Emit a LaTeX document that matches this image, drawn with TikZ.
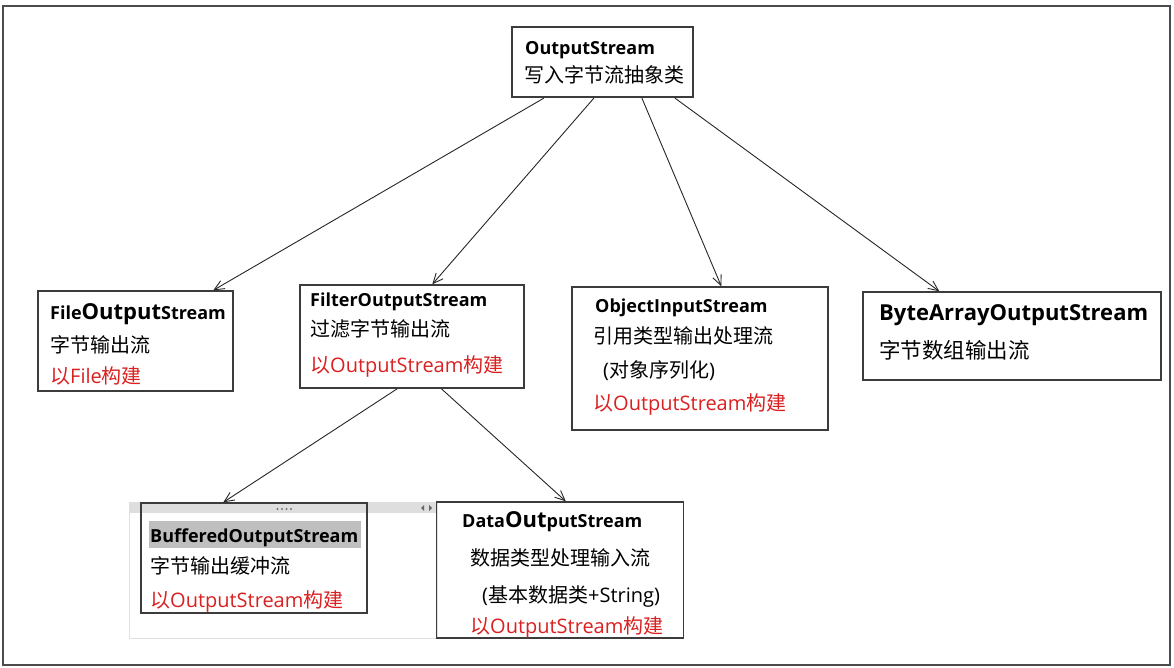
\documentclass[tikz,border=0pt]{standalone}
\usepackage{fontspec}
\setmainfont{Open Sans}
\newfontfamily\cjk{Noto Sans CJK SC}
\usetikzlibrary{arrows.meta,calc}
\definecolor{redtxt}{RGB}{218,32,32}
\definecolor{frame}{RGB}{60,60,60}
\newcommand{\zh}[1]{{\cjk #1}}
\newcommand{\bigpart}[1]{{\fontsize{22}{24}\selectfont #1}}
\begin{document}
\begin{tikzpicture}[x=1pt,y=-1pt,
  box/.style={draw=frame, line width=1.4pt, rectangle, inner sep=0pt},
  ttl/.style={anchor=base west, inner sep=0pt, font=\fontsize{18}{20}\selectfont\bfseries},
  txt/.style={anchor=base west, inner sep=0pt, font=\fontsize{20}{22}\selectfont},
  red/.style={txt, text=redtxt},
  arr/.style={draw=black!85, line width=0.9pt, -{Straight Barb[length=10pt,width=9pt]}}]
\useasboundingbox (0,0) rectangle (1174,668);
% outer frame
\node[draw=black!70, line width=1.5pt, minimum width=1167pt, minimum height=659pt, inner sep=0pt] (outer) at (586.5,335.5) {};
% decorative panel behind buffered
\node[draw=black!12, line width=0.8pt, minimum width=308pt, minimum height=136pt, inner sep=0pt] (panel) at (283,570) {};
\node[fill=black!13, minimum width=308pt, minimum height=11pt, inner sep=0pt] (bar) at (283,507.5) {};
\foreach \i in {0,1,2,3} \fill[black!55] (277.5+4.5*\i,509) circle (1.1pt);
\fill[black!60] (424,505) -- (424,511) -- (421,508) -- cycle;
\fill[black!60] (429,505) -- (429,511) -- (432,508) -- cycle;
% boxes
\node[box, line width=2.2pt, minimum width=181pt, minimum height=70pt] (top) at (602.5,62) {};
\node[box, minimum width=195pt, minimum height=100pt] (file) at (135.5,341) {};
\node[box, minimum width=224pt, minimum height=103pt] (filter) at (412,336.5) {};
\node[box, minimum width=256pt, minimum height=143pt] (object) at (700,358.5) {};
\node[box, minimum width=298pt, minimum height=88pt] (bytea) at (1012,336) {};
\node[box, minimum width=226pt, minimum height=110pt] (buff) at (254,558) {};
\node[box, minimum width=247pt, minimum height=136pt] (data) at (560,570) {};
% texts: top
\node[ttl] (t1) at (525,55) {OutputStream};
\node[txt] (t2) at (524,83) {\zh{写入字节流抽象类}};
% file
\node[ttl] (f1) at (50,319) {File\bigpart{Output}Stream};
\node[txt] (f2) at (50,352) {\zh{字节输出流}};
\node[red] (f3) at (50,383) {\zh{以}File\zh{构建}};
% filter
\node[ttl] (g1) at (310,306) {FilterOutputStream};
\node[txt] (g2) at (310,336) {\zh{过滤字节输出流}};
\node[red] (g3) at (310,372) {\zh{以}OutputStream\zh{构建}};
% object
\node[ttl] (o1) at (595,312) {ObjectInputStream};
\node[txt] (o2) at (593,343) {\zh{引用类型输出处理流}};
\node[txt] (o3) at (603,377) {(\zh{对象序列化})};
\node[red] (o4) at (593,410) {\zh{以}OutputStream\zh{构建}};
% bytearray
\node[ttl, font=\fontsize{22}{24}\selectfont\bfseries] (b1) at (879,320) {ByteArrayOutputStream};
\node[txt, font=\fontsize{21.5}{24}\selectfont] (b2) at (879,358) {\zh{字节数组输出流}};
% buffered
\node[fill=black!25, minimum width=212pt, minimum height=27pt, inner sep=0pt] (hl) at (255,534.5) {};
\node[ttl] (u1) at (150,542) {BufferedOutputStream};
\node[txt] (u2) at (150,573) {\zh{字节输出缓冲流}};
\node[red] (u3) at (150,607) {\zh{以}OutputStream\zh{构建}};
% data
\node[ttl] (d1) at (462,527) {Data\bigpart{Out}putStream};
\node[txt] (d2) at (470,565) {\zh{数据类型处理输入流}};
\node[txt] (d3) at (482,602) {(\zh{基本数据类}+String)};
\node[red] (d4) at (470,633) {\zh{以}OutputStream\zh{构建}};
% arrows
\draw[arr] ($(top.south west)+(33,0)$) -- ($(file.north west)+(176,0)$);
\draw[arr] ($(top.south west)+(83,0)$) -- ($(filter.north west)+(133,0)$);
\draw[arr] ($(top.south west)+(131,0)$) -- ($(object.north west)+(150,0)$);
\draw[arr] ($(top.south west)+(164,0)$) -- ($(bytea.north west)+(77,0)$);
\draw[arr] ($(filter.south west)+(98,0)$) -- ($(buff.north west)+(83,0)$);
\draw[arr] ($(filter.south west)+(142,0)$) -- ($(data.north west)+(130,0)$);
\end{tikzpicture}
\end{document}
